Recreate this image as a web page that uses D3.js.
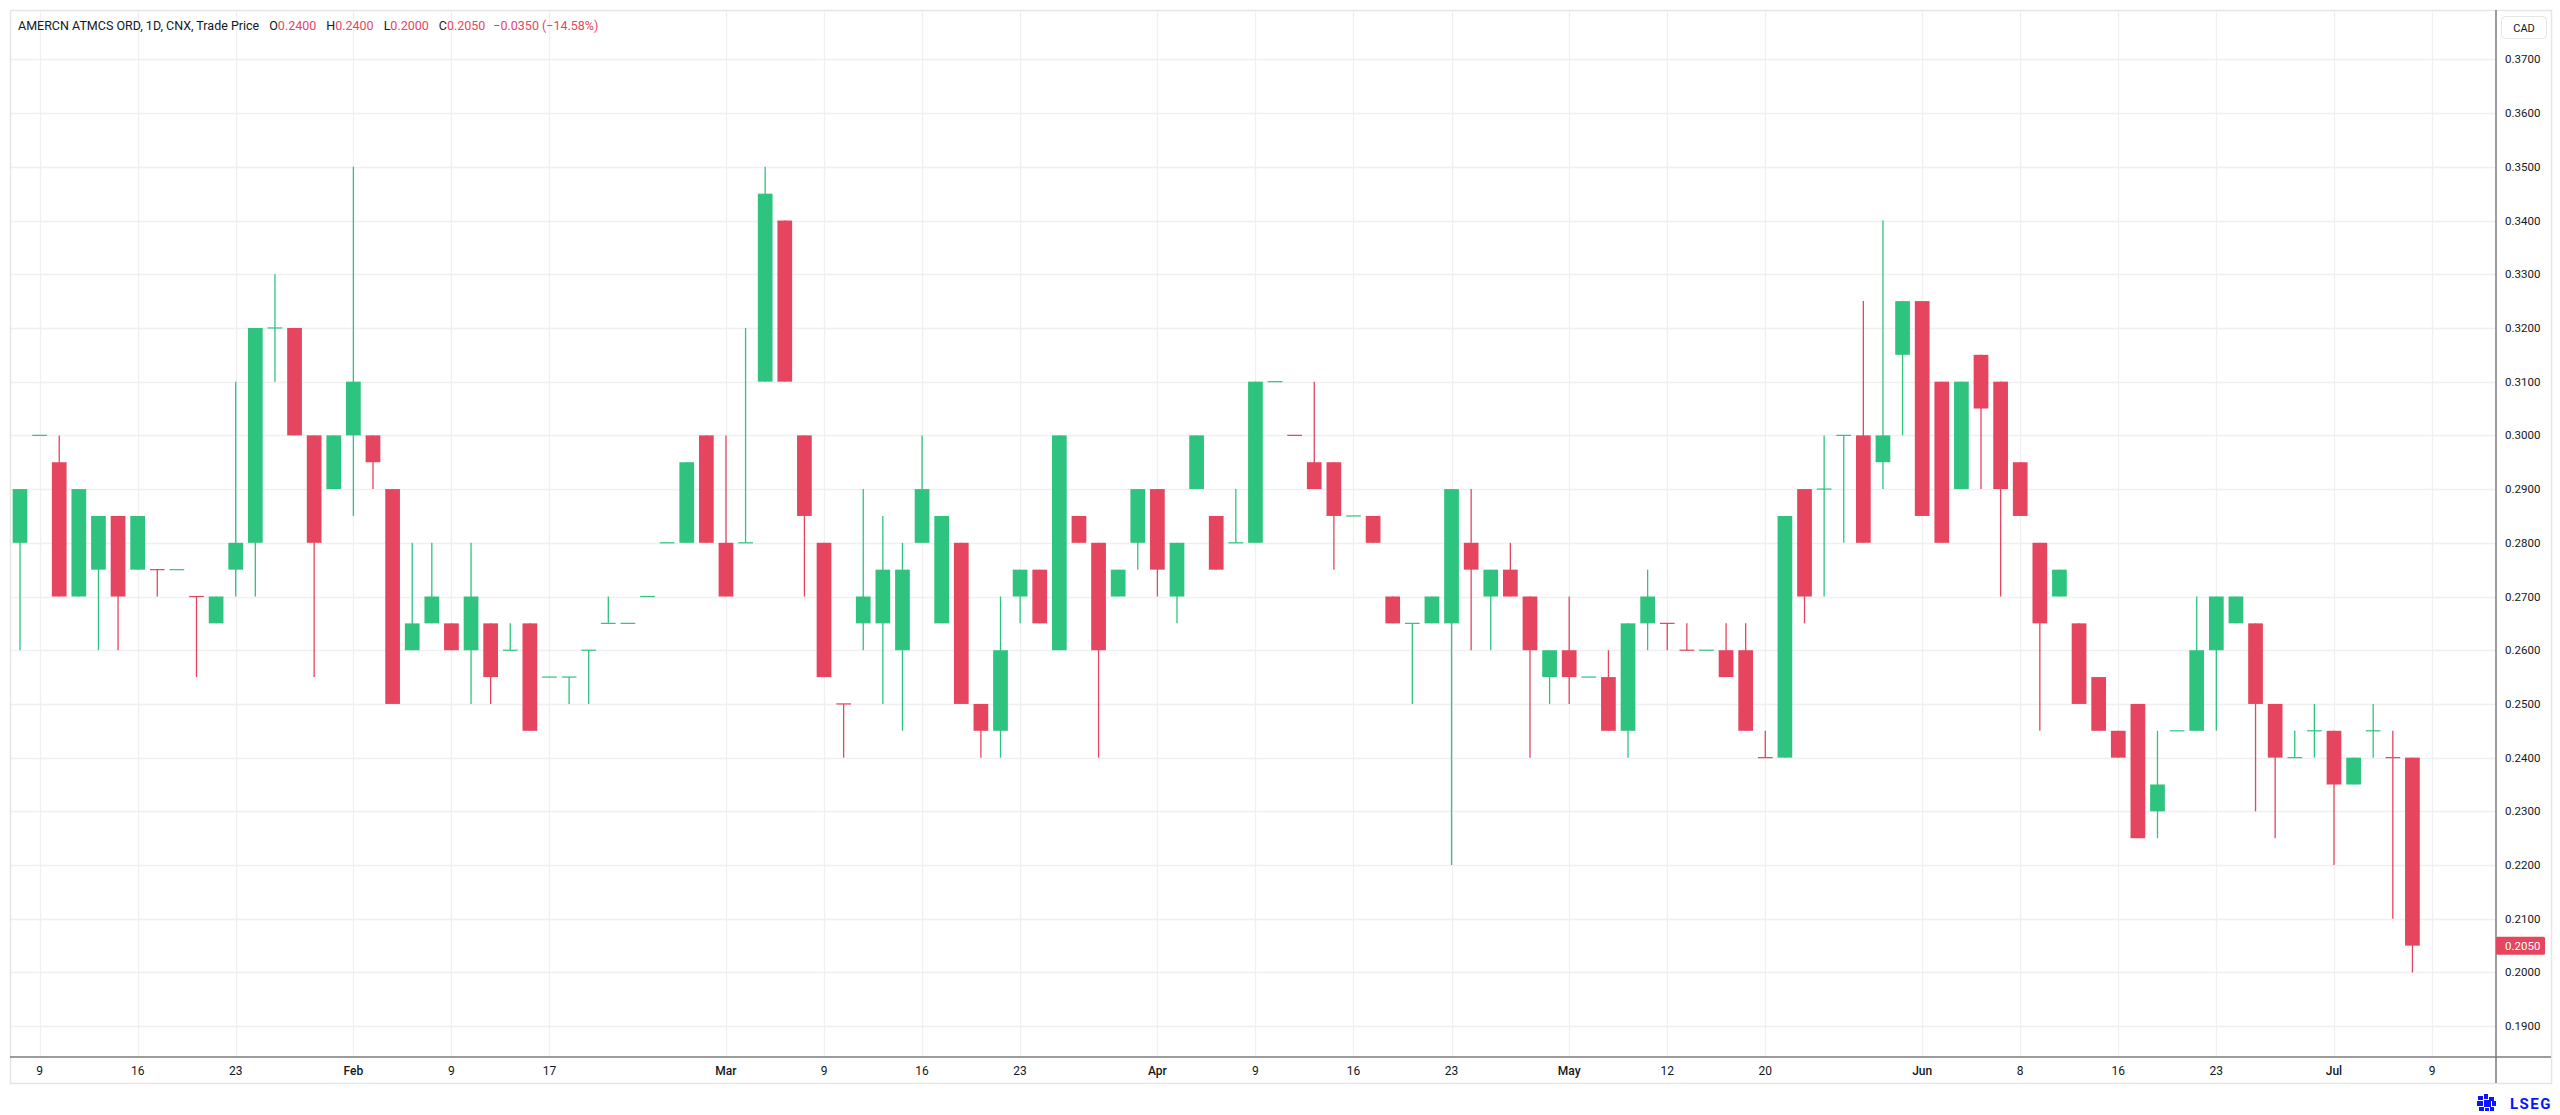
<!DOCTYPE html>
<html>
<head>
<meta charset="utf-8">
<script src="https://cdn.jsdelivr.net/npm/d3@7"></script>
<style>
  html, body { margin: 0; padding: 0; background: #fff; }
  svg { display: block; font-family: Roboto, "Liberation Sans", sans-serif; }
</style>
</head>
<body>
<script>
// trading days that have a bar (no bar on days without trades)
const dates = [
  "2026-01-08","2026-01-09","2026-01-12","2026-01-13","2026-01-14","2026-01-15","2026-01-16","2026-01-19","2026-01-20","2026-01-21",
  "2026-01-22","2026-01-23","2026-01-26","2026-01-27","2026-01-28","2026-01-29","2026-01-30","2026-02-02","2026-02-03","2026-02-04",
  "2026-02-05","2026-02-06","2026-02-09","2026-02-10","2026-02-11","2026-02-12","2026-02-13","2026-02-17","2026-02-18","2026-02-19",
  "2026-02-20","2026-02-23","2026-02-24","2026-02-25","2026-02-26","2026-02-27","2026-03-02","2026-03-03","2026-03-04","2026-03-05",
  "2026-03-06","2026-03-09","2026-03-10","2026-03-11","2026-03-12","2026-03-13","2026-03-16","2026-03-17","2026-03-18","2026-03-19",
  "2026-03-20","2026-03-23","2026-03-24","2026-03-25","2026-03-26","2026-03-27","2026-03-30","2026-03-31","2026-04-01","2026-04-02",
  "2026-04-06","2026-04-07","2026-04-08","2026-04-09","2026-04-10","2026-04-13","2026-04-14","2026-04-15","2026-04-16","2026-04-17",
  "2026-04-20","2026-04-21","2026-04-22","2026-04-23","2026-04-24","2026-04-27","2026-04-28","2026-04-29","2026-04-30","2026-05-01",
  "2026-05-04","2026-05-05","2026-05-08","2026-05-11","2026-05-12","2026-05-13","2026-05-14","2026-05-15","2026-05-19","2026-05-20",
  "2026-05-21","2026-05-22","2026-05-25","2026-05-26","2026-05-27","2026-05-28","2026-05-29","2026-06-01","2026-06-02","2026-06-03",
  "2026-06-04","2026-06-05","2026-06-08","2026-06-09","2026-06-10","2026-06-12","2026-06-15","2026-06-16","2026-06-17","2026-06-18",
  "2026-06-19","2026-06-22","2026-06-23","2026-06-24","2026-06-25","2026-06-26","2026-06-29","2026-06-30","2026-07-02","2026-07-03",
  "2026-07-06","2026-07-07","2026-07-08"
];
// empty slots to the right of the last bar
const futureDates = ["2026-07-09","2026-07-10","2026-07-13","2026-07-14"];

const open = [
  .28,.30,.295,.27,.275,.285,.275,.275,.275,.27, .265,.275,.28,.32,.32,.30,.29,.30,.30,.29,
  .26,.265,.265,.26,.265,.26,.265,.255,.255,.26, .265,.265,.27,.28,.28,.30,.28,.28,.31,.34,
  .30,.28,.25,.265,.265,.26,.28,.265,.28,.25, .245,.27,.275,.26,.285,.28,.27,.28,.29,.27,
  .29,.285,.28,.28,.31,.30,.295,.295,.285,.285, .27,.265,.265,.265,.28,.27,.275,.27,.255,.26,
  .255,.255,.245,.265,.265,.26,.26,.26,.26,.24, .24,.29,.29,.30,.30,.295,.315,.325,.31,.29,
  .315,.31,.295,.28,.27,.265,.255,.245,.25,.23, .245,.245,.26,.265,.265,.25,.24,.245,.245,.235,
  .245,.24,.24
];
const high = [
  .29,.30,.30,.29,.285,.285,.285,.275,.275,.27, .27,.31,.32,.33,.32,.30,.30,.35,.30,.29,
  .28,.28,.265,.28,.265,.265,.265,.255,.255,.26, .27,.265,.27,.28,.295,.30,.30,.32,.35,.34,
  .30,.28,.25,.29,.285,.28,.30,.285,.28,.25, .27,.275,.275,.30,.285,.28,.275,.29,.29,.28,
  .30,.285,.29,.31,.31,.30,.31,.295,.285,.285, .27,.265,.27,.29,.29,.275,.28,.27,.26,.27,
  .255,.26,.265,.275,.265,.265,.26,.265,.265,.245, .285,.29,.30,.30,.325,.34,.325,.325,.31,.31,
  .315,.31,.295,.28,.275,.265,.255,.245,.25,.245, .245,.27,.27,.27,.265,.25,.245,.25,.245,.24,
  .25,.245,.24
];
const low = [
  .26,.30,.27,.27,.26,.26,.275,.27,.275,.255, .265,.27,.27,.31,.30,.255,.29,.285,.29,.25,
  .26,.265,.26,.25,.25,.26,.245,.255,.25,.25, .265,.265,.27,.28,.28,.28,.27,.28,.31,.31,
  .27,.255,.24,.26,.25,.245,.28,.265,.25,.24, .24,.265,.265,.26,.28,.24,.27,.275,.27,.265,
  .29,.275,.28,.28,.31,.30,.29,.275,.285,.28, .265,.25,.265,.22,.26,.26,.27,.24,.25,.25,
  .255,.245,.24,.26,.26,.26,.26,.255,.245,.24, .24,.265,.27,.28,.28,.29,.30,.285,.28,.29,
  .29,.27,.285,.245,.27,.25,.245,.24,.225,.225, .245,.245,.245,.265,.23,.225,.24,.24,.22,.235,
  .24,.21,.20
];
const close = [
  .29,.30,.27,.29,.285,.27,.285,.275,.275,.27, .27,.28,.32,.32,.30,.28,.30,.31,.295,.25,
  .265,.27,.26,.27,.255,.26,.245,.255,.255,.26, .265,.265,.27,.28,.295,.28,.27,.28,.345,.31,
  .285,.255,.25,.27,.275,.275,.29,.285,.25,.245, .26,.275,.265,.30,.28,.26,.275,.29,.275,.28,
  .30,.275,.28,.31,.31,.30,.29,.285,.285,.28, .265,.265,.27,.29,.275,.275,.27,.26,.26,.255,
  .255,.245,.265,.27,.265,.26,.26,.255,.245,.24, .285,.27,.29,.30,.28,.30,.325,.285,.28,.31,
  .305,.29,.285,.265,.275,.25,.245,.24,.225,.235, .245,.26,.27,.27,.25,.24,.24,.245,.235,.24,
  .245,.24,.205
];

const tickDates = ["2026-01-09","2026-01-16","2026-01-23","2026-02-02","2026-02-09","2026-02-17","2026-03-02","2026-03-09",
  "2026-03-16","2026-03-23","2026-04-01","2026-04-09","2026-04-16","2026-04-23","2026-05-01","2026-05-12","2026-05-20",
  "2026-06-01","2026-06-08","2026-06-16","2026-06-23","2026-07-02","2026-07-09"];
const tickLabels = ["9","16","23","Feb","9","17","Mar","9","16","23","Apr","9","16","23","May","12","20","Jun","8","16","23","Jul","9"];
const priceTicks = [0.19,0.20,0.21,0.22,0.23,0.24,0.25,0.26,0.27,0.28,0.29,0.30,0.31,0.32,0.33,0.34,0.35,0.36,0.37];

const width = 2560, height = 1115;
const paneL = 10, paneT = 10, paneR = 2551, paneB = 1083;
const plotR = 2496, plotB = 1057;
const up = "#2ec480", down = "#e5455f";
const ink = "#131722", gridCol = "#f0f0f0", axisCol = "#7b7b7b";

const svg = d3.select("body").append("svg")
  .attr("width", width).attr("height", height);

svg.append("rect").attr("width", width).attr("height", height).attr("fill", "#fff");

const allDates = dates.concat(futureDates);
const step = 19.61;
const x = d3.scaleBand(allDates, [10.2, 10.2 + allDates.length * step])
  .paddingInner(0.25).paddingOuter(0.125);
const bw = x.bandwidth();
const y = d3.scaleLinear([0.19, 0.37], [1026.2, 59.4]);

svg.append("clipPath").attr("id", "plot")
  .append("rect").attr("x", paneL).attr("y", paneT).attr("width", plotR - paneL).attr("height", plotB - paneT);

// grid
const grid = svg.append("g").attr("clip-path", "url(#plot)");
grid.selectAll("line.h").data(priceTicks).enter().append("line")
  .attr("x1", paneL).attr("x2", plotR)
  .attr("y1", d => Math.round(y(d)) + 0.5).attr("y2", d => Math.round(y(d)) + 0.5)
  .attr("stroke", gridCol).attr("stroke-width", 1.3);
grid.selectAll("line.v").data(tickDates).enter().append("line")
  .attr("x1", d => Math.round(x(d) + bw / 2) + 0.5).attr("x2", d => Math.round(x(d) + bw / 2) + 0.5)
  .attr("y1", paneT).attr("y2", plotB)
  .attr("stroke", gridCol).attr("stroke-width", 1.3);

// candles
const bars = dates.map((d, i) => ({
  date: d, o: open[i], h: high[i], l: low[i], c: close[i],
  prev: i ? close[i - 1] : open[i]
}));
const col = d => d.c > d.o ? up : d.c < d.o ? down : (d.c >= d.prev ? up : down);

const candles = svg.append("g").attr("clip-path", "url(#plot)")
  .selectAll("g").data(bars).enter().append("g");
candles.filter(d => d.h > d.l).append("line")
  .attr("x1", d => x(d.date) + bw / 2).attr("x2", d => x(d.date) + bw / 2)
  .attr("y1", d => y(d.h)).attr("y2", d => y(d.l))
  .attr("stroke", col).attr("stroke-width", 1.3);
candles.append("rect")
  .attr("x", d => x(d.date)).attr("width", bw)
  .attr("y", d => d.o === d.c ? y(d.c) - 0.6 : y(Math.max(d.o, d.c)))
  .attr("height", d => d.o === d.c ? 1.2 : Math.abs(y(d.o) - y(d.c)))
  .attr("fill", col);

// pane frame and axes
svg.append("rect").attr("x", paneL + 0.5).attr("y", paneT + 0.5)
  .attr("width", paneR - paneL).attr("height", paneB - paneT)
  .attr("fill", "none").attr("stroke", "#e6e6e6").attr("stroke-width", 1.5);
svg.append("line").attr("x1", paneL).attr("x2", paneR).attr("y1", plotB).attr("y2", plotB)
  .attr("stroke", axisCol).attr("stroke-width", 1.5);
svg.append("line").attr("x1", plotR).attr("x2", plotR).attr("y1", paneT).attr("y2", paneB)
  .attr("stroke", axisCol).attr("stroke-width", 1.5);

// time axis labels
svg.append("g").selectAll("text").data(tickDates).enter().append("text")
  .attr("x", d => x(d) + bw / 2).attr("y", 1075)
  .attr("text-anchor", "middle").attr("font-size", 12)
  .attr("font-weight", (d, i) => isNaN(+tickLabels[i]) ? 500 : 400)
  .attr("fill", ink)
  .text((d, i) => tickLabels[i]);

// price axis labels
const fmt = d3.format(".4f");
svg.append("g").selectAll("text").data(priceTicks).enter().append("text")
  .attr("x", 2505).attr("y", d => y(d) + 4)
  .attr("font-size", 11.5).attr("fill", ink)
  .text(fmt);

// currency box
svg.append("rect").attr("x", 2501.5).attr("y", 16.5).attr("width", 45).attr("height", 22).attr("rx", 4)
  .attr("fill", "#fff").attr("stroke", "#e6e6e6");
svg.append("text").attr("x", 2524).attr("y", 31.5).attr("text-anchor", "middle")
  .attr("font-size", 11).attr("fill", ink).text("CAD");

// last price label
const last = bars[bars.length - 1];
svg.append("rect").attr("x", plotR).attr("y", y(last.c) - 9).attr("width", 49).attr("height", 18)
  .attr("rx", 1.5).attr("fill", col(last));
svg.append("text").attr("x", 2505).attr("y", y(last.c) + 4)
  .attr("font-size", 11.5).attr("fill", "#fff").text(fmt(last.c));

// legend line
const chg = last.c - last.prev;
const lc = col(last);
const legend = svg.append("text").attr("x", 18).attr("y", 30).attr("font-size", 12.5).attr("fill", ink);
legend.append("tspan").text("AMERCN ATMCS ORD, 1D, CNX, Trade Price");
[["O", last.o], ["H", last.h], ["L", last.l], ["C", last.c]].forEach(([k, v]) => {
  legend.append("tspan").attr("dx", 10).text(k);
  legend.append("tspan").attr("fill", lc).text(fmt(v));
});
legend.append("tspan").attr("dx", 8).attr("fill", lc)
  .text(fmt(chg).replace("-", "\u2212") + " (" + d3.format(".2f")(chg / last.prev * 100).replace("-", "\u2212") + "%)");

// LSEG mark
const logo = svg.append("g").attr("fill", "#0a14ff");
[[2478,1096,5,4],[2484,1094,4,5],[2489,1097,5,4],[2477,1101,6,5],[2484,1100,7,7],[2492,1101,4,5],[2479,1107,5,4],[2490,1107,4,4],[2485,1108,4,3]]
  .forEach(r => logo.append("rect").attr("x", r[0]).attr("y", r[1]).attr("width", r[2]).attr("height", r[3]));
svg.append("text").attr("x", 2510).attr("y", 1109).attr("font-size", 15).attr("font-weight", 700)
  .attr("letter-spacing", 1.5).attr("fill", "#0a14ff").text("LSEG");
</script>
</body>
</html>
